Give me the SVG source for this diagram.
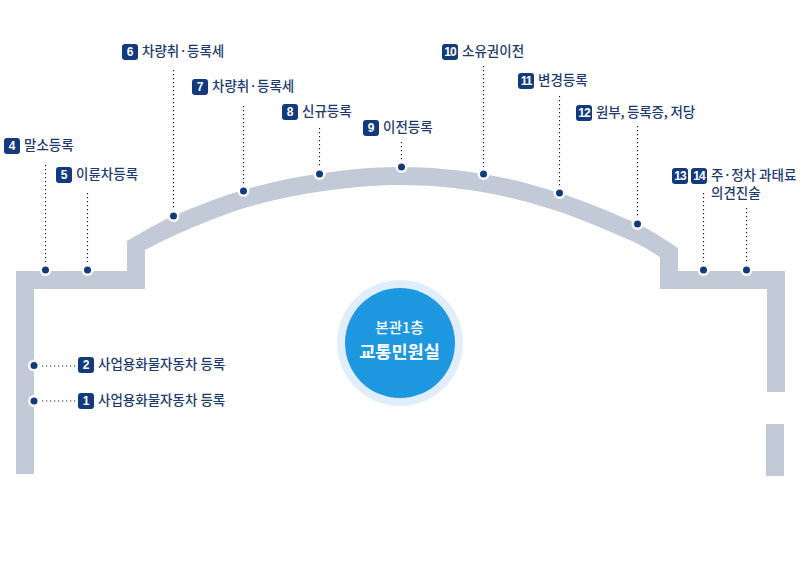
<svg xmlns="http://www.w3.org/2000/svg" width="803" height="562" viewBox="0 0 803 562">
<style>
text{font-family:"Noto Sans CJK KR","Noto Sans",sans-serif}
.w{fill:#c1cad6}
.c{fill:none;stroke:#222;stroke-width:1.2;stroke-dasharray:1.2 2.8}
.h{fill:#fff}.d{fill:#123a7c}
.b{fill:#123a7c}
.n{fill:#fff;font-size:12px;font-weight:700;text-anchor:middle;font-family:"Liberation Sans","Noto Sans",sans-serif}
.t{letter-spacing:-1px}
.l{fill:#1d3a6e;font-size:13.5px;font-weight:500}
</style>
<g id="building">
<path class="w" d="M16 474V271H127V241C134.750 236.800 154.100 224.500 173.500 216C192.900 207.500 219.200 197.100 243.500 190C267.800 182.900 293.200 177.300 319.500 173.500C345.800 169.700 374.200 166.900 401.500 167C428.800 167.100 457.200 169.700 483.500 174C509.800 178.300 533.800 184.700 559.500 193C585.200 201.300 617.800 214.800 637.500 224C657.200 233.200 671.300 244 678 248V271H785V392H767V289H660V257C654.900 254.200 647.200 247.800 629.500 240C611.800 232.200 578.800 218 554 210C529.200 202 506.100 196 480.700 191.800C455.300 187.600 428 185.100 401.500 185C375.100 184.900 347.600 187.600 322 191.300C296.400 195 271.500 200.150 248 207C224.500 213.850 198.200 225.200 181 232.400C163.800 239.600 151 247.100 145 250V289H34V474Z"/>
<rect class="w" x="766" y="424" width="18" height="52"/>
</g>
<g id="connectors">
<path class="c" d="M45.500 165V262M87.500 193V262M173.500 70V209M243.500 106V184M319.500 128V166M401.500 142V160M483.500 66V167M559.500 96V186M637.500 126V217M703.500 193V262M746.500 208V262M42 366H76M42 401H76"/>
</g>
<g id="center">
<circle cx="400" cy="343" r="63" fill="#dfeefa"/>
<circle cx="400" cy="343" r="55" fill="#1d98e0"/>
<text x="399.500" y="333" fill="#fff" font-size="14.500" font-weight="500" text-anchor="middle">본관1층</text>
<text x="399.500" y="358" fill="#fff" font-size="17.500" font-weight="700" text-anchor="middle">교통민원실</text>
</g>
<g id="n1"><circle class="h" cx="34" cy="401" r="6"/><circle class="d" cx="34" cy="401" r="3.500"/><rect class="b" x="78" y="393" width="16" height="16" rx="3"/><text class="n" x="86" y="405">1</text><text class="l" x="98" y="405">사업용화물자동차 등록</text></g>
<g id="n2"><circle class="h" cx="34" cy="365.500" r="6"/><circle class="d" cx="34" cy="365.500" r="3.500"/><rect class="b" x="78" y="357" width="16" height="16" rx="3"/><text class="n" x="86" y="369">2</text><text class="l" x="98" y="369">사업용화물자동차 등록</text></g>
<g id="n4"><circle class="h" cx="45.500" cy="270" r="6"/><circle class="d" cx="45.500" cy="270" r="3.500"/><rect class="b" x="4" y="138" width="16" height="16" rx="3"/><text class="n" x="12" y="150">4</text><text class="l" x="24" y="150">말소등록</text></g>
<g id="n5"><circle class="h" cx="87.500" cy="270" r="6"/><circle class="d" cx="87.500" cy="270" r="3.500"/><rect class="b" x="56" y="167" width="16" height="16" rx="3"/><text class="n" x="64" y="179">5</text><text class="l" x="76" y="179">이륜차등록</text></g>
<g id="n6"><circle class="h" cx="173.500" cy="216" r="6"/><circle class="d" cx="173.500" cy="216" r="3.500"/><rect class="b" x="122" y="44" width="16" height="16" rx="3"/><text class="n" x="130" y="56">6</text><text class="l" x="142" y="56">차량취·등록세</text></g>
<g id="n7"><circle class="h" cx="243.500" cy="191" r="6"/><circle class="d" cx="243.500" cy="191" r="3.500"/><rect class="b" x="192" y="79" width="16" height="16" rx="3"/><text class="n" x="200" y="91">7</text><text class="l" x="212" y="91">차량취·등록세</text></g>
<g id="n8"><circle class="h" cx="319.500" cy="174" r="6"/><circle class="d" cx="319.500" cy="174" r="3.500"/><rect class="b" x="282" y="104" width="16" height="16" rx="3"/><text class="n" x="290" y="116">8</text><text class="l" x="302" y="116">신규등록</text></g>
<g id="n9"><circle class="h" cx="401.500" cy="167" r="6"/><circle class="d" cx="401.500" cy="167" r="3.500"/><rect class="b" x="363" y="120" width="16" height="16" rx="3"/><text class="n" x="371" y="132">9</text><text class="l" x="383" y="132">이전등록</text></g>
<g id="n10"><circle class="h" cx="483.500" cy="174" r="6"/><circle class="d" cx="483.500" cy="174" r="3.500"/><rect class="b" x="442" y="44" width="16" height="16" rx="3"/><text class="n t" x="450" y="56">10</text><text class="l" x="462" y="56">소유권이전</text></g>
<g id="n11"><circle class="h" cx="559.500" cy="193" r="6"/><circle class="d" cx="559.500" cy="193" r="3.500"/><rect class="b" x="518" y="73" width="16" height="16" rx="3"/><text class="n t" x="526" y="85">11</text><text class="l" x="538" y="85">변경등록</text></g>
<g id="n12"><circle class="h" cx="637.500" cy="224" r="6"/><circle class="d" cx="637.500" cy="224" r="3.500"/><rect class="b" x="576" y="105" width="16" height="16" rx="3"/><text class="n t" x="584" y="117">12</text><text class="l" x="596" y="117" letter-spacing="-.2">원부, 등록증, 저당</text></g>
<g id="n13"><circle class="h" cx="703.500" cy="270" r="6"/><circle class="d" cx="703.500" cy="270" r="3.500"/><rect class="b" x="672" y="168" width="16" height="16" rx="3"/><text class="n t" x="680" y="180">13</text></g>
<g id="n14"><circle class="h" cx="746.500" cy="270" r="6"/><circle class="d" cx="746.500" cy="270" r="3.500"/><rect class="b" x="691" y="168" width="16" height="16" rx="3"/><text class="n t" x="699" y="180">14</text><text class="l" x="711" y="180">주·정차 과태료<tspan x="711" dy="18">의견진술</tspan></text></g>
</svg>
